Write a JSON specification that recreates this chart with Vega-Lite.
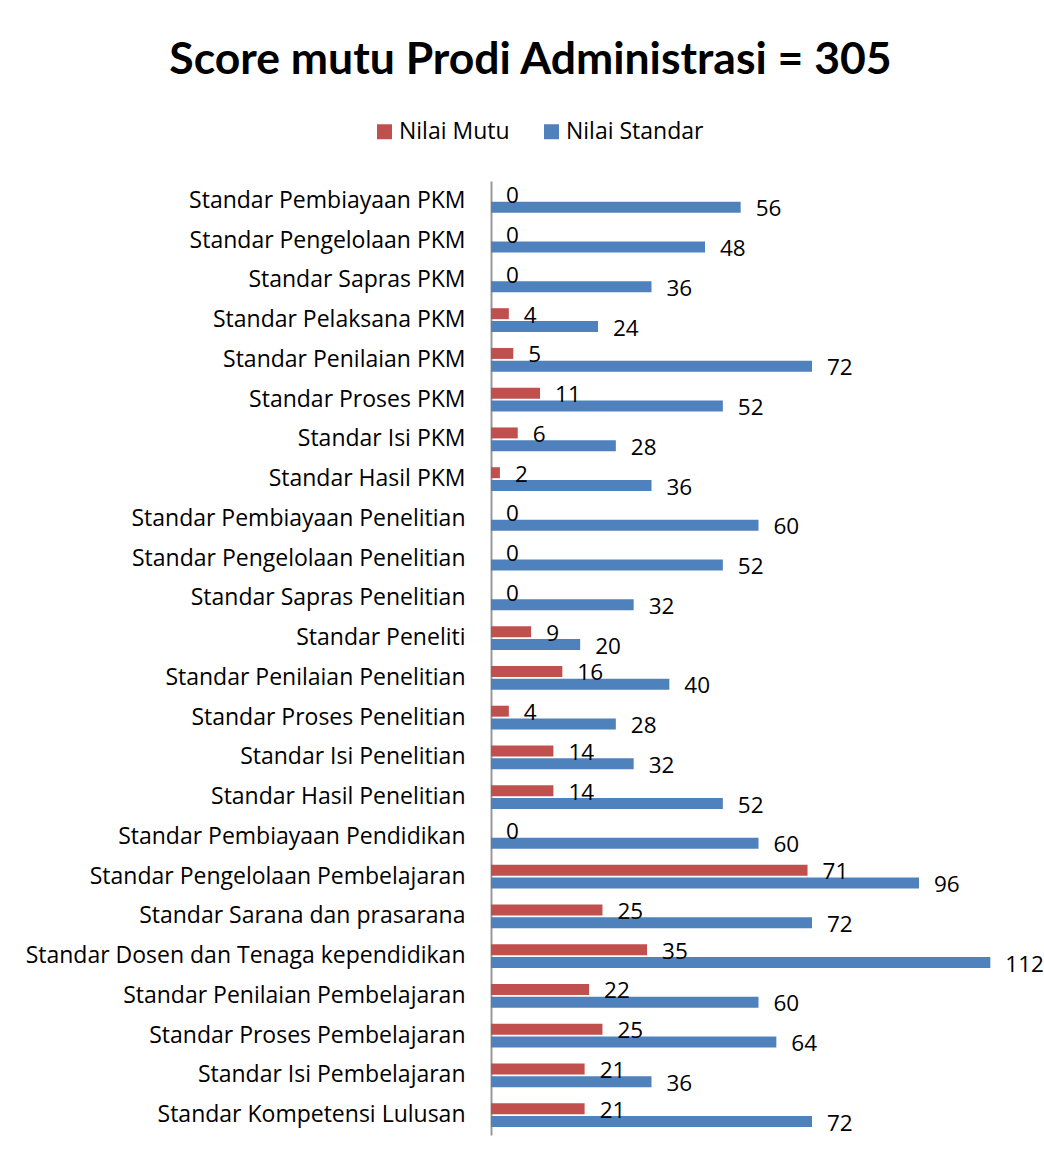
{
  "$schema": "https://vega.github.io/schema/vega-lite/v6.json",
  "width": 535,
  "height": 954,
  "autosize": {"type": "none"},
  "padding": {"left": 491, "top": 181, "right": 18, "bottom": 24},
  "background": "white",
  "config": {"font": "Open Sans", "view": {"stroke": null}},
  "title": {
    "text": "Score mutu Prodi Administrasi = 305",
    "font": "Lato",
    "fontSize": 44.5,
    "fontWeight": "bold",
    "color": "black",
    "anchor": "middle",
    "dx": -228,
    "offset": 37
  },
  "data": {
    "values": [
      {"standar": "Standar Pembiayaan PKM", "seri": "Nilai Mutu", "nilai": 0},
      {"standar": "Standar Pembiayaan PKM", "seri": "Nilai Standar", "nilai": 56},
      {"standar": "Standar Pengelolaan PKM", "seri": "Nilai Mutu", "nilai": 0},
      {"standar": "Standar Pengelolaan PKM", "seri": "Nilai Standar", "nilai": 48},
      {"standar": "Standar Sapras PKM", "seri": "Nilai Mutu", "nilai": 0},
      {"standar": "Standar Sapras PKM", "seri": "Nilai Standar", "nilai": 36},
      {"standar": "Standar Pelaksana PKM", "seri": "Nilai Mutu", "nilai": 4},
      {"standar": "Standar Pelaksana PKM", "seri": "Nilai Standar", "nilai": 24},
      {"standar": "Standar Penilaian PKM", "seri": "Nilai Mutu", "nilai": 5},
      {"standar": "Standar Penilaian PKM", "seri": "Nilai Standar", "nilai": 72},
      {"standar": "Standar Proses PKM\u00a0", "seri": "Nilai Mutu", "nilai": 11},
      {"standar": "Standar Proses PKM\u00a0", "seri": "Nilai Standar", "nilai": 52},
      {"standar": "Standar Isi PKM\u00a0", "seri": "Nilai Mutu", "nilai": 6},
      {"standar": "Standar Isi PKM\u00a0", "seri": "Nilai Standar", "nilai": 28},
      {"standar": "Standar Hasil PKM", "seri": "Nilai Mutu", "nilai": 2},
      {"standar": "Standar Hasil PKM", "seri": "Nilai Standar", "nilai": 36},
      {"standar": "Standar Pembiayaan Penelitian", "seri": "Nilai Mutu", "nilai": 0},
      {"standar": "Standar Pembiayaan Penelitian", "seri": "Nilai Standar", "nilai": 60},
      {"standar": "Standar Pengelolaan Penelitian", "seri": "Nilai Mutu", "nilai": 0},
      {"standar": "Standar Pengelolaan Penelitian", "seri": "Nilai Standar", "nilai": 52},
      {"standar": "Standar Sapras Penelitian", "seri": "Nilai Mutu", "nilai": 0},
      {"standar": "Standar Sapras Penelitian", "seri": "Nilai Standar", "nilai": 32},
      {"standar": "Standar Peneliti", "seri": "Nilai Mutu", "nilai": 9},
      {"standar": "Standar Peneliti", "seri": "Nilai Standar", "nilai": 20},
      {"standar": "Standar Penilaian Penelitian", "seri": "Nilai Mutu", "nilai": 16},
      {"standar": "Standar Penilaian Penelitian", "seri": "Nilai Standar", "nilai": 40},
      {"standar": "Standar Proses Penelitian\u00a0", "seri": "Nilai Mutu", "nilai": 4},
      {"standar": "Standar Proses Penelitian\u00a0", "seri": "Nilai Standar", "nilai": 28},
      {"standar": "Standar Isi Penelitian\u00a0", "seri": "Nilai Mutu", "nilai": 14},
      {"standar": "Standar Isi Penelitian\u00a0", "seri": "Nilai Standar", "nilai": 32},
      {"standar": "Standar Hasil Penelitian", "seri": "Nilai Mutu", "nilai": 14},
      {"standar": "Standar Hasil Penelitian", "seri": "Nilai Standar", "nilai": 52},
      {"standar": "Standar Pembiayaan Pendidikan", "seri": "Nilai Mutu", "nilai": 0},
      {"standar": "Standar Pembiayaan Pendidikan", "seri": "Nilai Standar", "nilai": 60},
      {"standar": "Standar Pengelolaan Pembelajaran", "seri": "Nilai Mutu", "nilai": 71},
      {"standar": "Standar Pengelolaan Pembelajaran", "seri": "Nilai Standar", "nilai": 96},
      {"standar": "Standar Sarana dan prasarana", "seri": "Nilai Mutu", "nilai": 25},
      {"standar": "Standar Sarana dan prasarana", "seri": "Nilai Standar", "nilai": 72},
      {"standar": "Standar Dosen dan Tenaga kependidikan", "seri": "Nilai Mutu", "nilai": 35},
      {"standar": "Standar Dosen dan Tenaga kependidikan", "seri": "Nilai Standar", "nilai": 112},
      {"standar": "Standar Penilaian Pembelajaran", "seri": "Nilai Mutu", "nilai": 22},
      {"standar": "Standar Penilaian Pembelajaran", "seri": "Nilai Standar", "nilai": 60},
      {"standar": "Standar Proses Pembelajaran", "seri": "Nilai Mutu", "nilai": 25},
      {"standar": "Standar Proses Pembelajaran", "seri": "Nilai Standar", "nilai": 64},
      {"standar": "Standar Isi Pembelajaran", "seri": "Nilai Mutu", "nilai": 21},
      {"standar": "Standar Isi Pembelajaran", "seri": "Nilai Standar", "nilai": 36},
      {"standar": "Standar Kompetensi Lulusan", "seri": "Nilai Mutu", "nilai": 21},
      {"standar": "Standar Kompetensi Lulusan", "seri": "Nilai Standar", "nilai": 72}
    ]
  },
  "encoding": {
    "y": {
      "field": "standar",
      "type": "nominal",
      "sort": null,
      "scale": {"paddingInner": 0.4, "paddingOuter": 0.2},
      "axis": {
        "title": null,
        "ticks": false,
        "labelPadding": 26,
        "labelFontSize": 23,
        "labelFont": "Open Sans",
        "labelColor": "black",
        "labelLimit": 0,
        "domainColor": "#999999",
        "domainWidth": 2
      }
    },
    "yOffset": {
      "field": "seri",
      "type": "nominal",
      "sort": ["Nilai Mutu", "Nilai Standar"],
      "scale": {"paddingInner": 0.15}
    },
    "x": {
      "field": "nilai",
      "type": "quantitative",
      "scale": {"domain": [0, 120], "nice": false},
      "axis": null
    }
  },
  "layer": [
    {
      "mark": {"type": "bar"},
      "encoding": {
        "color": {
          "field": "seri",
          "type": "nominal",
          "sort": ["Nilai Mutu", "Nilai Standar"],
          "scale": {"domain": ["Nilai Mutu", "Nilai Standar"], "range": ["#C0504D", "#4F81BD"]},
          "legend": {
            "orient": "none",
            "legendX": -118,
            "legendY": -61,
            "direction": "horizontal",
            "title": null,
            "padding": 0,
            "symbolType": "square",
            "symbolSize": 225,
            "symbolStrokeWidth": 0,
            "labelFont": "Open Sans",
            "labelFontSize": 23,
            "labelColor": "black",
            "labelOffset": 3,
            "columnPadding": 30
          }
        }
      }
    },
    {
      "mark": {"type": "text", "align": "left", "baseline": "middle", "dx": 15, "dy": 2, "fontSize": 22.5, "font": "Open Sans", "color": "black"},
      "encoding": {"text": {"field": "nilai", "type": "quantitative"}}
    }
  ]
}
